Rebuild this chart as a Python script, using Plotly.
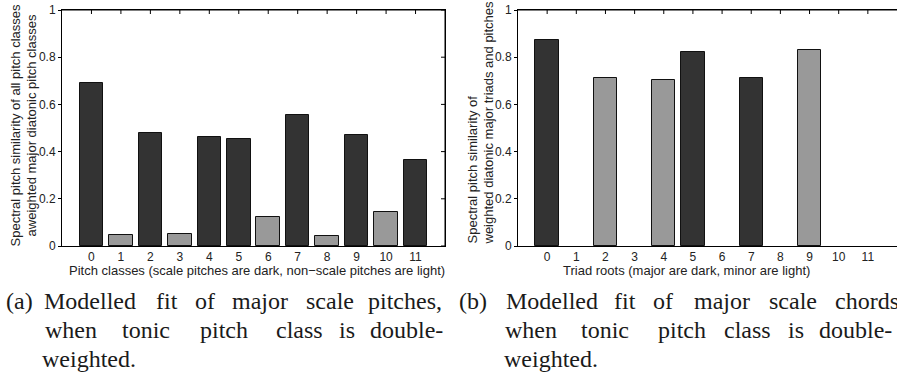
import plotly.graph_objects as go

# ---- data -------------------------------------------------------------
pitch_classes = list(range(12))
pitch_fit = [0.690, 0.047, 0.477, 0.050, 0.462, 0.452, 0.123, 0.555, 0.044, 0.470, 0.142, 0.364]
pitch_in_scale = [True, False, True, False, True, True, False, True, False, True, False, True]

triad_roots = list(range(12))
triad_fit = [0.873, 0.0, 0.713, 0.0, 0.703, 0.823, 0.0, 0.711, 0.0, 0.829, 0.0, 0.0]
triad_is_major = [True, False, False, False, False, True, False, True, False, False, False, False]

y_tick_vals = [0, 0.2, 0.4, 0.6, 0.8, 1]
y_tick_text = ["0", "0.2", "0.4", "0.6", "0.8", "1"]

left_xtitle = "Pitch classes (scale pitches are dark, non\u2212scale pitches are light)"
left_ytitle = "Spectral pitch similarity of all pitch classes<br>aweighted major diatonic pitch classes"
right_xtitle = "Triad roots (major are dark, minor are light)"
right_ytitle = "Spectral pitch similarity of<br>weighted diatonic major triads and pitches"

caption_a = [["(a)", "Modelled", "fit", "of", "major", "scale", "pitches,"],
             ["when", "tonic", "pitch", "class", "is", "double-"],
             ["weighted."]]
caption_b = [["(b)", "Modelled", "fit", "of", "major", "scale", "chords,"],
             ["when", "tonic", "pitch", "class", "is", "double-"],
             ["weighted."]]

# ---- layout constants -------------------------------------------------
W, H = 897, 378
DARK, LIGHT = "#333333", "#999999"
SANS = "Liberation Sans, Arial, sans-serif"
SERIF = "Liberation Serif, Times New Roman, serif"

def px_x(p):
    return p / W

def px_y(p):
    return 1 - p / H

LEFT_PX = (62, 445)
RIGHT_PX = (518, 897)
TOP_PX, BOTTOM_PX = 10, 246
left_dom = [px_x(LEFT_PX[0]), px_x(LEFT_PX[1])]
right_dom = [px_x(RIGHT_PX[0]), 1.0]
y_dom = [px_y(BOTTOM_PX), px_y(TOP_PX)]
TICK_LEN = 4

xr = [-1, 12]
yr = [0, 1]

# placement (px, anchor) of each caption word on its justified line
C, L = "center", "left"
caption_a_pos = [[(19.5, C), (90, C), (166.5, C), (205, C), (260, C), (329.5, C), (404.5, C)],
                 [(70.5, C), (145.5, C), (224, C), (299, C), (346.5, C), (406, C)],
                 [(40, L)]]
caption_b_pos = [[(472.5, C), (552, C), (625, C), (662.5, C), (721.5, C), (792.5, C), (833, L)],
                 [(531, C), (605, C), (681.5, C), (747.5, C), (795.5, C), (817, L)],
                 [(502, L)]]
caption_line_center = [301, 330, 359]

fig = go.Figure()

fig.add_trace(go.Bar(
    x=pitch_classes, y=pitch_fit, width=0.8,
    marker=dict(color=[DARK if s else LIGHT for s in pitch_in_scale],
                line=dict(color="#111111", width=1)),
    xaxis="x", yaxis="y", showlegend=False,
))
# empty-height roots are left blank rather than drawn as flat slivers
fig.add_trace(go.Bar(
    x=triad_roots, y=[v if v > 0 else None for v in triad_fit], width=0.8,
    marker=dict(color=[DARK if m else LIGHT for m in triad_is_major],
                line=dict(color="#111111", width=1)),
    xaxis="x2", yaxis="y2", showlegend=False,
))

# frame: top edge (both panels), right edge (left panel) and their inward ticks
plot_h = BOTTOM_PX - TOP_PX
unit_y = (yr[1] - yr[0]) / plot_h
unit_x = (xr[1] - xr[0]) / (LEFT_PX[1] - LEFT_PX[0])


def frame_path(cats, close_right):
    fx, fy = [xr[0], xr[1]], [yr[1], yr[1]]
    if close_right:
        fx += [xr[1]]
        fy += [yr[0]]
    fx.append(None)
    fy.append(None)
    for c in cats:
        fx += [c, c, None]
        fy += [yr[1], yr[1] - TICK_LEN * unit_y, None]
    if close_right:
        for v in y_tick_vals:
            fx += [xr[1], xr[1] - TICK_LEN * unit_x, None]
            fy += [v, v, None]
    return fx, fy


for (xa, ya, cats, close_right) in (("x", "y", pitch_classes, True),
                                    ("x2", "y2", triad_roots, False)):
    fx, fy = frame_path(cats, close_right)
    fig.add_trace(go.Scatter(
        x=fx, y=fy, mode="lines", line=dict(color="black", width=1),
        xaxis=xa, yaxis=ya, cliponaxis=False, showlegend=False,
    ))

tick_font = dict(family=SANS, size=12, color="#222222")
axis_common = dict(showline=True, linecolor="black", linewidth=1,
                   showgrid=False, zeroline=False, tickcolor="black")

layout_axes = dict(
    xaxis=dict(domain=left_dom, range=xr, anchor="y", tickvals=pitch_classes,
               ticks="", mirror=True, tickfont=tick_font, **axis_common),
    yaxis=dict(domain=y_dom, range=yr, anchor="x", tickvals=y_tick_vals, ticktext=y_tick_text,
               ticks="outside", ticklen=3, mirror=True, tickfont=tick_font, **axis_common),
    xaxis2=dict(domain=right_dom, range=xr, anchor="y2", tickvals=triad_roots,
                ticks="", mirror=True, tickfont=tick_font, **axis_common),
    yaxis2=dict(domain=y_dom, range=yr, anchor="x2", tickvals=y_tick_vals, ticktext=y_tick_text,
                ticks="outside", ticklen=3, mirror=False, tickfont=tick_font, **axis_common),
)

title_font = dict(family=SANS, size=13, color="#222222")
annotations = [
    dict(text=left_xtitle, x=px_x(256.7), y=px_y(270), xanchor="center", yanchor="middle",
         font=title_font),
    dict(text=right_xtitle, x=px_x(686.7), y=px_y(270), xanchor="center", yanchor="middle",
         font=title_font),
    dict(text=left_ytitle, x=px_x(23.5), y=px_y(125), xanchor="center", yanchor="middle",
         textangle=-90, align="center", font=title_font),
    dict(text=right_ytitle, x=px_x(480), y=px_y(122.5), xanchor="center", yanchor="middle",
         textangle=-90, align="left", font=title_font),
]

cap_font = dict(family=SERIF, size=24, color="#1a1a1a")
for words_lines, pos_lines in ((caption_a, caption_a_pos), (caption_b, caption_b_pos)):
    for line_idx, (words, poss) in enumerate(zip(words_lines, pos_lines)):
        for word, (xp, anchor) in zip(words, poss):
            annotations.append(dict(
                text=word, x=px_x(xp), y=px_y(caption_line_center[line_idx]),
                xanchor=anchor, yanchor="middle", font=cap_font,
            ))

for a in annotations:
    a.update(xref="paper", yref="paper", showarrow=False)

fig.update_layout(
    template="none",
    width=W, height=H,
    margin=dict(l=0, r=0, t=0, b=0),
    paper_bgcolor="white", plot_bgcolor="white",
    bargap=0, barmode="overlay",
    annotations=annotations,
    **layout_axes,
)

fig.write_html("out.html", include_plotlyjs=True, full_html=True,
               config={"displayModeBar": False})
